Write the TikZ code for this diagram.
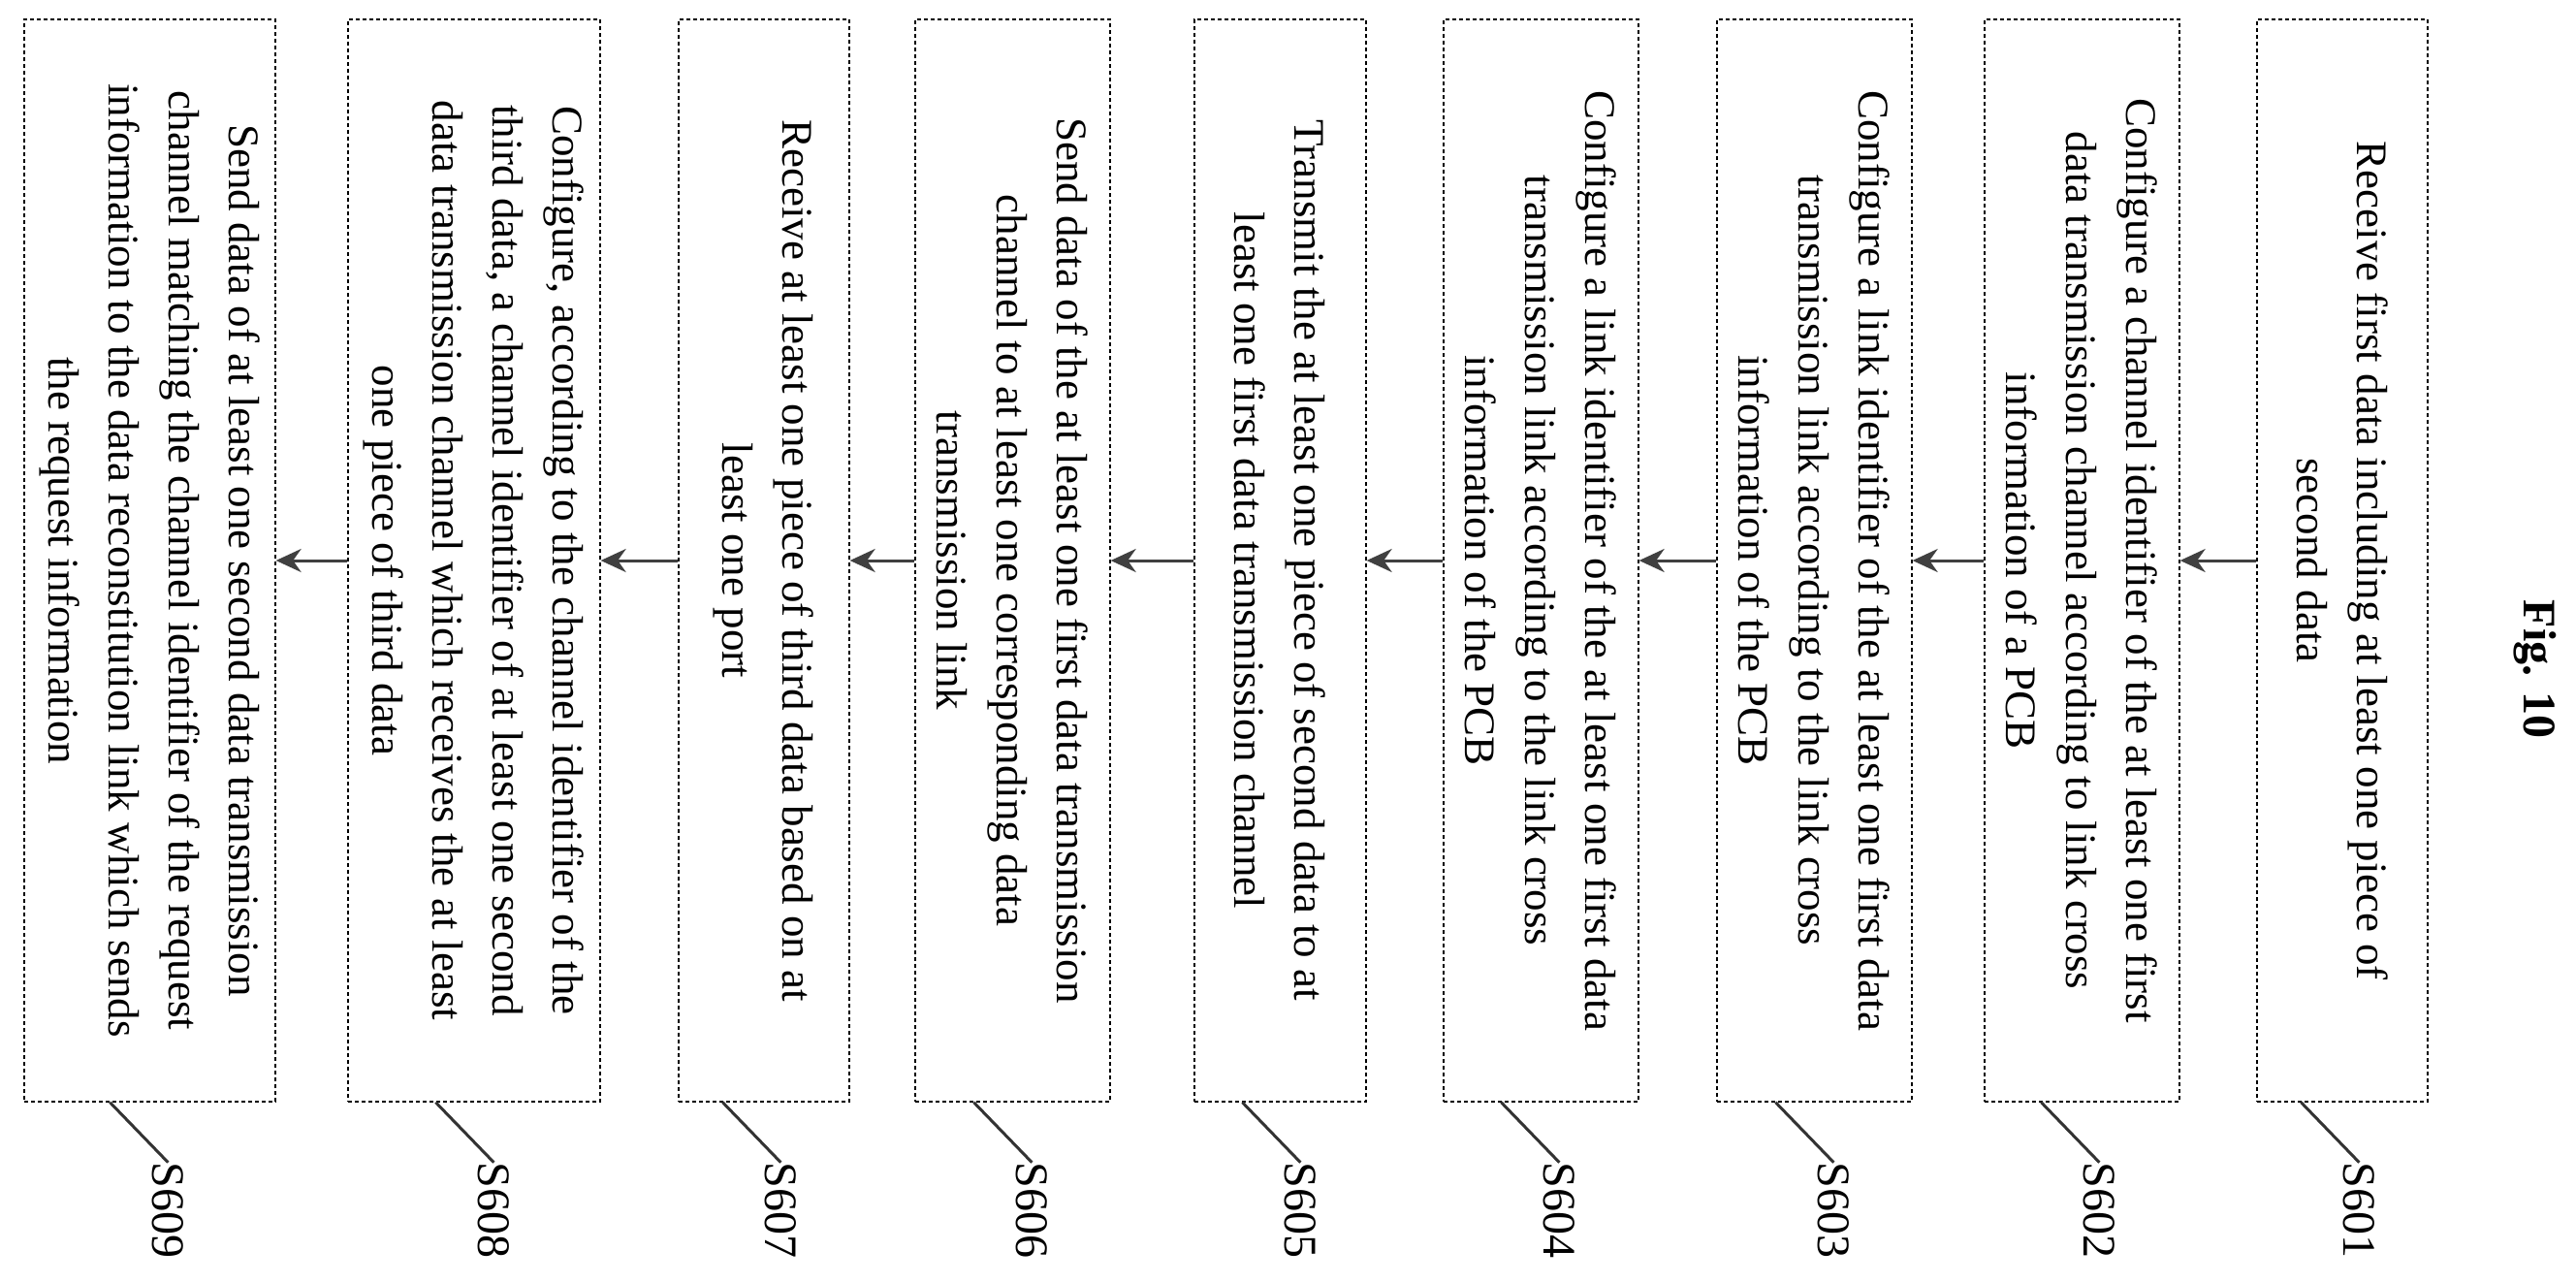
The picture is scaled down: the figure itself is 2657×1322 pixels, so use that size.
\documentclass[tikz,border=0pt]{standalone}
\usepackage{fontspec}
\setmainfont{Liberation Serif}
\usetikzlibrary{arrows.meta,calc}
\begin{document}
\begin{tikzpicture}[x=1pt,y=-1pt,
  box/.style={draw,dash pattern=on 4pt off 3pt,line width=1.3pt,minimum height=1116pt,inner sep=0pt},
  txt/.style={rotate=-90,align=center,inner sep=0pt,font=\fontsize{45}{62}\selectfont},
  lbl/.style={rotate=-90,anchor=west,inner sep=0pt,font=\fontsize{48}{50}\selectfont},
  lead/.style={line width=3pt,black!80},
  arr/.style={line width=3pt,black!75,-{Stealth[length=26pt,width=24pt]}}]
\useasboundingbox (0,0) rectangle (2657,1322);
\node[font=\bfseries\fontsize{48}{50}\selectfont,rotate=-90] (fig) at (2615,690) {Fig. 10};
\foreach \n/\cx/\w/\off/\t in {
 1/2416/176/46/{Receive first data including at least one piece of\\second data},
 2/2147.5/201/59/{Configure a channel identifier of the at least one first\\data transmission channel according to link cross\\information of a PCB},
 3/1871.5/201/61/{Configure a link identifier of the at least one first data\\transmission link according to the link cross\\information of the PCB},
 4/1589.5/201/60/{Configure a link identifier of the at least one first data\\transmission link according to the link cross\\information of the PCB},
 5/1320.5/177/50/{Transmit the at least one piece of second data to at\\least one first data transmission channel},
 6/1044.5/201/61/{Send data of the at least one first data transmission\\channel to at least one corresponding data\\transmission link},
 7/788/176/46/{Receive at least one piece of third data based on at\\least one port},
 8/489/260/91/{Configure, according to the channel identifier of the\\third data, a channel identifier of at least one second\\data transmission channel which receives the at least\\one piece of third data},
 9/154.5/259/89/{Send data of at least one second data transmission\\channel matching the channel identifier of the request\\information to the data reconstitution link which sends\\the request information}}{
  \node[box,minimum width=\w pt] (b\n) at (\cx,578) {};
  \node[txt] (t\n) at (b\n.center) {\t};
  \coordinate (c\n) at ($(b\n.south west)+(\off,0)$);
  \node[lbl] (l\n) at ($(c\n)+(60,62)$) {S60\n};
  \draw[lead] (c\n) -- (l\n.west);
}
\foreach \a/\b in {1/2,2/3,3/4,4/5,5/6,6/7,7/8,8/9}{
  \draw[arr] (b\a.west) -- (b\b.east);
}
\end{tikzpicture}
\end{document}
